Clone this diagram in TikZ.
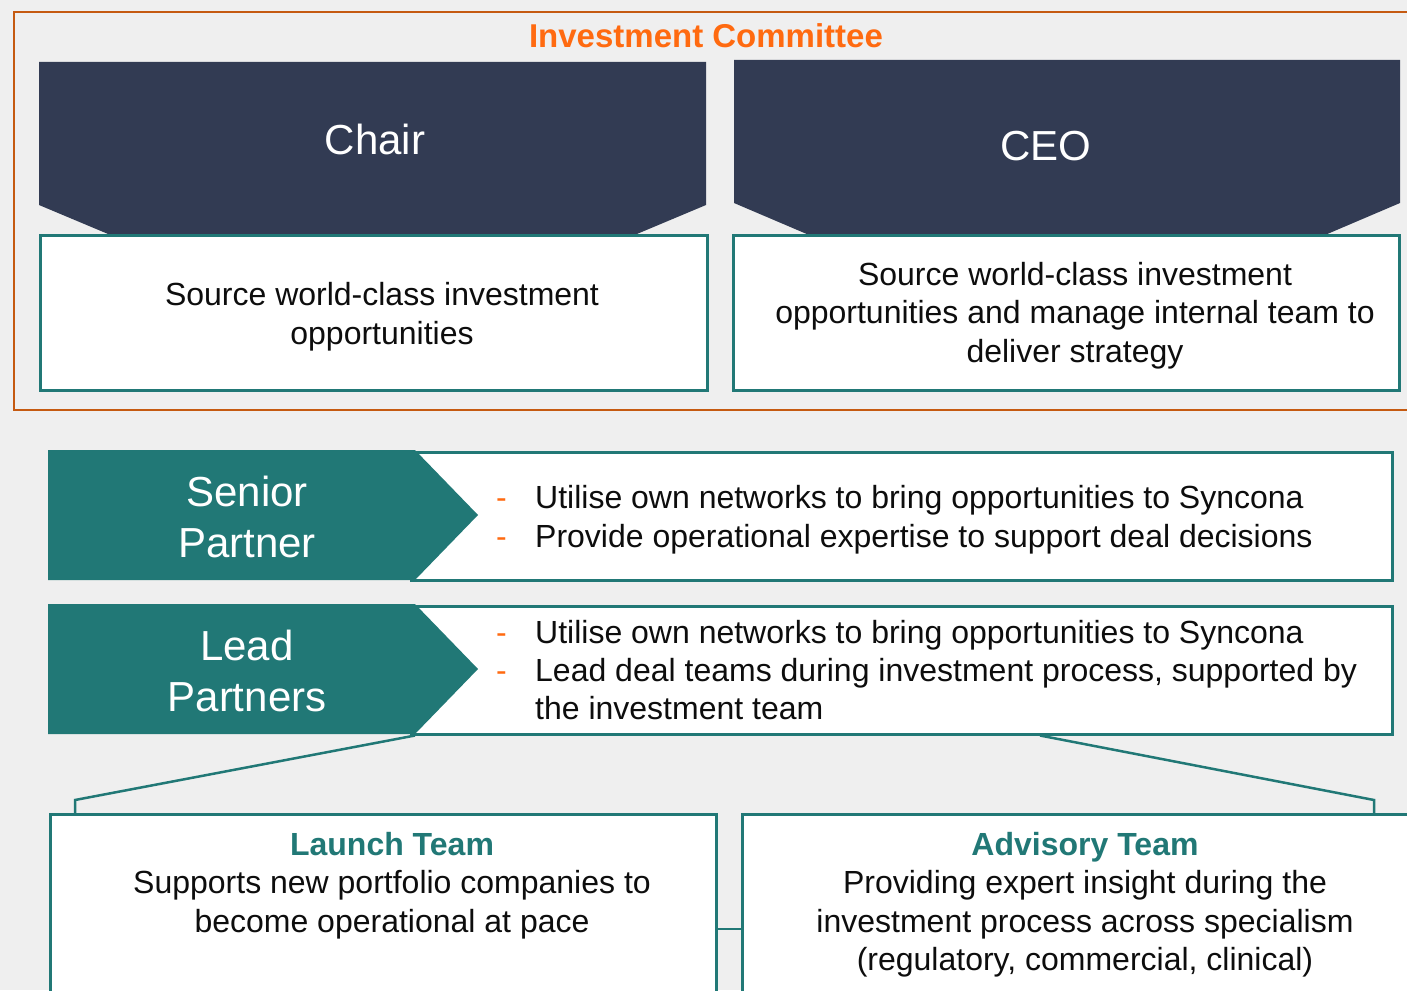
\documentclass[tikz,border=0pt]{standalone}
\usepackage{fontspec}
\setmainfont{Liberation Sans}
\definecolor{navy}{HTML}{323B53}
\definecolor{tealc}{HTML}{217876}
\definecolor{frameor}{HTML}{C55A11}
\definecolor{titleor}{HTML}{FF6A10}
\definecolor{bg}{HTML}{EFEFEF}
\definecolor{ink}{HTML}{0D0D0D}
\newcommand{\bodyfont}{\fontsize{32}{38.5}\selectfont}
\newcommand{\bigfont}{\fontsize{42}{51}\selectfont}
\begin{document}
\begin{tikzpicture}[x=1pt,y=-1pt,
  wbox/.style={draw=tealc, line width=2.5pt, fill=white, inner sep=0pt, anchor=north west},
  headshape/.style={fill=navy},
  rolearrow/.style={fill=tealc},
  rolename/.style={text=white, font=\bigfont, align=center},
  bodytext/.style={text=ink, font=\bodyfont, align=center},
  bullettext/.style={text=ink, font=\bodyfont, anchor=base west, inner sep=0pt},
  dashmark/.style={text=titleor, font=\bodyfont, anchor=base west, inner sep=0pt},
  tealline/.style={draw=tealc, line width=2.5pt},
]
\useasboundingbox (0,0) rectangle (1407,990);
\clip (0,0) rectangle (1407,990);
\fill[bg] (0,0) rectangle (1407,990);

% Investment Committee frame
\draw[frameor, line width=2.5pt] (14,12) rectangle (1440,410);
\node[text=titleor, font=\fontsize{33}{40}\selectfont\bfseries] (ictitle) at (706,36) {Investment Committee};

% Chair
\path[headshape] (39,62) -- (706,62) -- (706,205) -- (372.5,345) -- (39,205) -- cycle;
\node[rolename] (chair) at (375,139) {Chair};
\node[wbox, minimum width=667, minimum height=155] (chairbox) at (39,234) {};
\node[bodytext] (chairtext) at (382,316.5) {Source world-class investment\\opportunities};

% CEO
\path[headshape] (734,60) -- (1400,60) -- (1400,203) -- (1067,345) -- (734,203) -- cycle;
\node[rolename] (ceo) at (1046,146) {CEO};
\node[wbox, minimum width=666, minimum height=155] (ceobox) at (732,234) {};
\node[bodytext] (ceotext) at (1075,315.5) {Source world-class investment\\opportunities and manage internal team to\\deliver strategy};

% Senior Partner
\node[wbox, minimum width=981, minimum height=128] (spbox) at (410,451) {};
\path[rolearrow] (48,450) -- (415,450) -- (478,515) -- (415,580) -- (48,580) -- cycle;
\node[rolename] (sp) at (247,516.5) {Senior\\Partner};
\node[dashmark] (spd1) at (496,508.5) {-};
\node[dashmark] (spd2) at (496,547.5) {-};
\node[bullettext] (spt1) at (535,508.5) {Utilise own networks to bring opportunities to Syncona};
\node[bullettext] (spt2) at (535,547.5) {Provide operational expertise to support deal decisions};

% Lead Partners
\node[wbox, minimum width=981, minimum height=128] (lpbox) at (410,605) {};
\path[rolearrow] (48,604) -- (415,604) -- (478,669) -- (415,734) -- (48,734) -- cycle;
\node[rolename] (lp) at (247,670.5) {Lead\\Partners};
\node[dashmark] (lpd1) at (496,643.5) {-};
\node[dashmark] (lpd2) at (496,681.5) {-};
\node[bullettext] (lpt1) at (535,643.5) {Utilise own networks to bring opportunities to Syncona};
\node[bullettext] (lpt2) at (535,681.5) {Lead deal teams during investment process, supported by};
\node[bullettext] (lpt3) at (535,719.5) {the investment team};

% Teams
\node[wbox, minimum width=666, minimum height=260] (launch) at (49,813) {};
\node[wbox, minimum width=720, minimum height=260] (advisory) at (741,813) {};
\node[bodytext] (launchtext) at (392,885.5) {\textcolor{tealc}{\bfseries Launch Team}\\Supports new portfolio companies to\\become operational at pace};
\node[bodytext] (advisorytext) at (1085,904.5) {\textcolor{tealc}{\bfseries Advisory Team}\\Providing expert insight during the\\investment process across specialism\\(regulatory, commercial, clinical)};

% Brackets from Lead Partners down to the teams
\coordinate (lx) at (415,0);
\coordinate (rx) at (1040,0);
\coordinate (lk) at (75,800);
\coordinate (rk) at (1374,800);
\coordinate (mid) at (0,929);
\draw[tealline] (lpbox.south -| lx) -- (lk) -- (launch.north -| lk);
\draw[tealline] (lpbox.south -| rx) -- (rk) -- (advisory.north -| rk);
\draw[tealline] (launch.east |- mid) -- (advisory.west |- mid);
\end{tikzpicture}
\end{document}
